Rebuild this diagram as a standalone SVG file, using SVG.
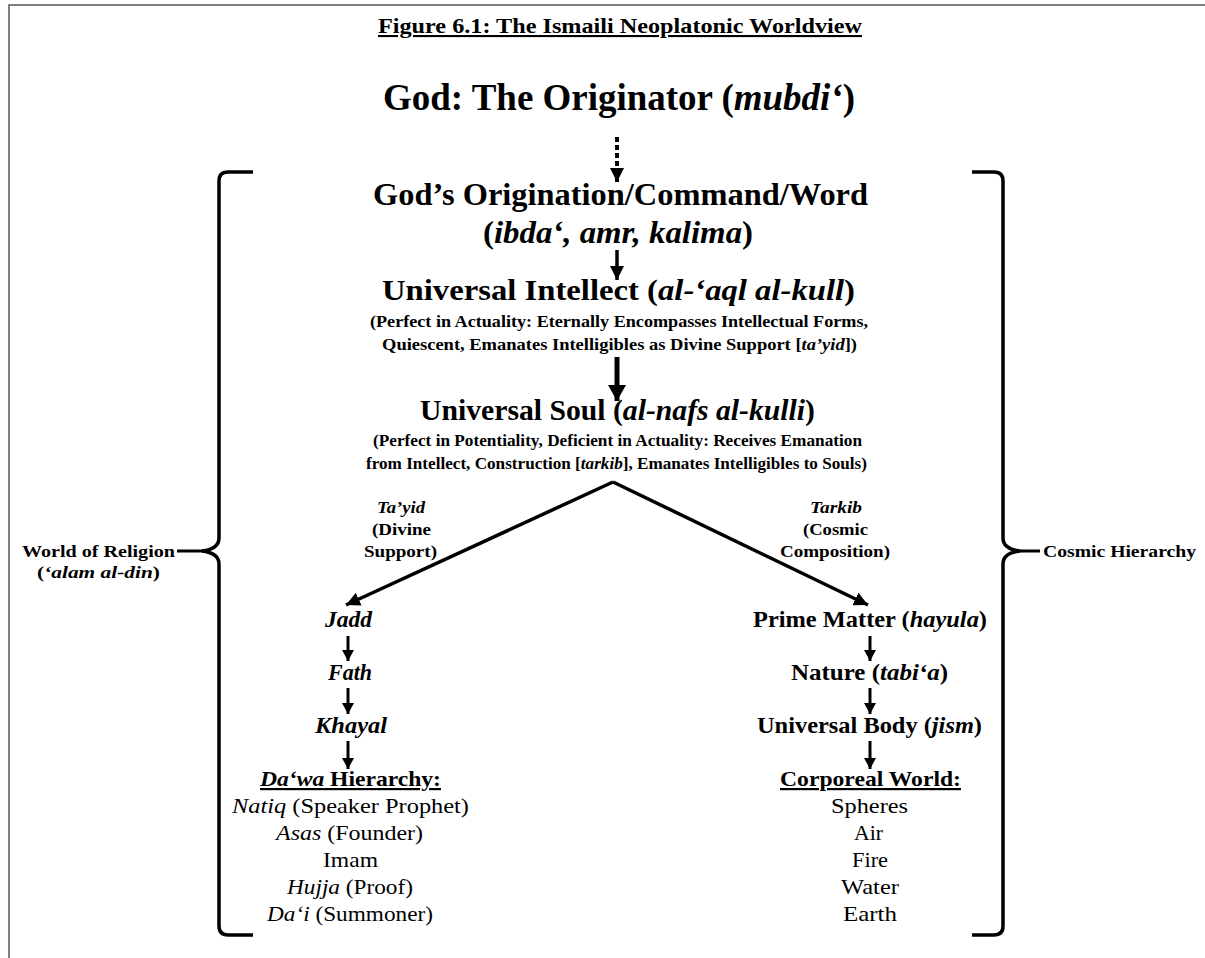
<svg xmlns="http://www.w3.org/2000/svg" width="1205" height="958" viewBox="0 0 1205 958">
<defs>
<style>
text{font-family:"Liberation Serif","Times New Roman",serif;fill:#000}
.b{font-weight:bold}
.i{font-style:italic}
.u{text-decoration:underline}
.ln{stroke:#000;fill:none}
</style>
<marker id="ah" viewBox="0 0 14 14" refX="14" refY="7" markerWidth="14" markerHeight="14" markerUnits="userSpaceOnUse" orient="auto"><path d="M0,0 L14,7 L0,14 z" fill="#000"/></marker>
<marker id="ahL" viewBox="0 0 16 18" refX="16" refY="9" markerWidth="16" markerHeight="18" markerUnits="userSpaceOnUse" orient="auto"><path d="M0,0 L16,9 L0,18 z" fill="#000"/></marker>
<marker id="ahS" viewBox="0 0 11 12" refX="11" refY="6" markerWidth="11" markerHeight="12" markerUnits="userSpaceOnUse" orient="auto"><path d="M0,0 L11,6 L0,12 z" fill="#000"/></marker>
</defs>
<rect x="0" y="0" width="1205" height="958" fill="#fff"/>
<rect x="9" y="5" width="1300" height="1000" fill="none" stroke="#555" stroke-width="1.5"/>
<text class="b u" x="378" y="33" font-size="21" textLength="484" lengthAdjust="spacingAndGlyphs">Figure 6.1: The Ismaili Neoplatonic Worldview</text>

<g id="brackets">
<path class="ln" stroke-width="3.5" d="M253,172 L228,172 Q219,172 219,181 L219,538 Q219,549 202,551 Q219,553 219,564 L219,926 Q219,935 228,935 L253,935"/>
<line class="ln" stroke-width="3" x1="177" y1="551" x2="204" y2="551"/>
<path class="ln" stroke-width="3.5" d="M972,172 L994,172 Q1003,172 1003,181 L1003,538 Q1003,549 1020,551 Q1003,553 1003,564 L1003,926 Q1003,935 994,935 L972,935"/>
<line class="ln" stroke-width="3" x1="1018" y1="551" x2="1040" y2="551"/>
</g>

<g id="connectors">
<line class="ln" stroke-width="4" stroke-dasharray="5 3" x1="617" y1="137" x2="617" y2="182" marker-end="url(#ah)"/>
<line class="ln" stroke-width="3.5" x1="617" y1="250" x2="617" y2="280" marker-end="url(#ah)"/>
<line class="ln" stroke-width="5" x1="617" y1="357" x2="617" y2="401" marker-end="url(#ahL)"/>
<line class="ln" stroke-width="3.5" x1="613" y1="482" x2="346" y2="605" marker-end="url(#ah)"/>
<line class="ln" stroke-width="3.5" x1="613" y1="482" x2="868" y2="605" marker-end="url(#ah)"/>
<line class="ln" stroke-width="3" x1="348" y1="636" x2="348" y2="661" marker-end="url(#ahS)"/>
<line class="ln" stroke-width="3" x1="348" y1="688" x2="348" y2="714" marker-end="url(#ahS)"/>
<line class="ln" stroke-width="3" x1="348" y1="741" x2="348" y2="769" marker-end="url(#ahS)"/>
<line class="ln" stroke-width="3" x1="870" y1="636" x2="870" y2="661" marker-end="url(#ahS)"/>
<line class="ln" stroke-width="3" x1="870" y1="688" x2="870" y2="714" marker-end="url(#ahS)"/>
<line class="ln" stroke-width="3" x1="870" y1="741" x2="870" y2="769" marker-end="url(#ahS)"/>
</g>

<g id="god"><text class="b" x="383" y="110" font-size="37" textLength="472" lengthAdjust="spacingAndGlyphs">God: The Originator (<tspan class="i">mubdi‘</tspan>)</text></g>

<g id="origination">
<text class="b" x="373" y="205" font-size="32" textLength="495" lengthAdjust="spacingAndGlyphs">God’s Origination/Command/Word</text>
<text class="b" x="483" y="243" font-size="32" textLength="270" lengthAdjust="spacingAndGlyphs">(<tspan class="i">ibda‘, amr, kalima</tspan>)</text>
</g>

<g id="intellect">
<text class="b" x="382" y="300" font-size="30" textLength="473" lengthAdjust="spacingAndGlyphs">Universal Intellect (<tspan class="i">al-‘aql al-kull</tspan>)</text>
<text class="b" x="370" y="327" font-size="17" textLength="498" lengthAdjust="spacingAndGlyphs">(Perfect in Actuality: Eternally Encompasses Intellectual Forms,</text>
<text class="b" x="382" y="350" font-size="17" textLength="475" lengthAdjust="spacingAndGlyphs">Quiescent, Emanates Intelligibles as Divine Support [<tspan class="i">ta’yid</tspan>])</text>
</g>

<g id="soul">
<text class="b" x="420" y="420" font-size="30" textLength="395" lengthAdjust="spacingAndGlyphs">Universal Soul (<tspan class="i">al-nafs al-kulli</tspan>)</text>
<text class="b" x="373" y="446" font-size="17" textLength="489" lengthAdjust="spacingAndGlyphs">(Perfect in Potentiality, Deficient in Actuality: Receives Emanation</text>
<text class="b" x="366" y="469" font-size="17" textLength="501" lengthAdjust="spacingAndGlyphs">from Intellect, Construction [<tspan class="i">tarkib</tspan>], Emanates Intelligibles to Souls)</text>
</g>

<g id="label-tayid">
<text class="b i" x="377" y="513" font-size="17" textLength="48" lengthAdjust="spacingAndGlyphs">Ta’yid</text>
<text class="b" x="372" y="535" font-size="17" textLength="59" lengthAdjust="spacingAndGlyphs">(Divine</text>
<text class="b" x="364" y="557" font-size="17" textLength="73" lengthAdjust="spacingAndGlyphs">Support)</text>
</g>
<g id="label-tarkib">
<text class="b i" x="810" y="513" font-size="17" textLength="52" lengthAdjust="spacingAndGlyphs">Tarkib</text>
<text class="b" x="803" y="535" font-size="17" textLength="65" lengthAdjust="spacingAndGlyphs">(Cosmic</text>
<text class="b" x="780" y="557" font-size="17" textLength="110" lengthAdjust="spacingAndGlyphs">Composition)</text>
</g>

<g id="jadd"><text class="b i" x="325" y="627" font-size="23" textLength="47" lengthAdjust="spacingAndGlyphs">Jadd</text></g>
<g id="fath"><text class="b i" x="328" y="680" font-size="23" textLength="44" lengthAdjust="spacingAndGlyphs">Fath</text></g>
<g id="khayal"><text class="b i" x="315" y="733" font-size="23" textLength="72" lengthAdjust="spacingAndGlyphs">Khayal</text></g>
<g id="dawa">
<text class="b u" x="260" y="786" font-size="22" textLength="181" lengthAdjust="spacingAndGlyphs"><tspan class="i">Da‘wa</tspan> Hierarchy:</text>
<text x="232" y="813" font-size="22" textLength="237" lengthAdjust="spacingAndGlyphs"><tspan class="i">Natiq</tspan> (Speaker Prophet)</text>
<text x="276" y="840" font-size="22" textLength="147" lengthAdjust="spacingAndGlyphs"><tspan class="i">Asas</tspan> (Founder)</text>
<text x="323" y="867" font-size="22" textLength="55" lengthAdjust="spacingAndGlyphs">Imam</text>
<text x="287" y="894" font-size="22" textLength="126" lengthAdjust="spacingAndGlyphs"><tspan class="i">Hujja</tspan> (Proof)</text>
<text x="267" y="921" font-size="22" textLength="166" lengthAdjust="spacingAndGlyphs"><tspan class="i">Da‘i</tspan> (Summoner)</text>
</g>

<g id="prime-matter"><text class="b" x="753" y="627" font-size="23" textLength="234" lengthAdjust="spacingAndGlyphs">Prime Matter (<tspan class="i">hayula</tspan>)</text></g>
<g id="nature"><text class="b" x="791" y="680" font-size="23" textLength="157" lengthAdjust="spacingAndGlyphs">Nature (<tspan class="i">tabi‘a</tspan>)</text></g>
<g id="body"><text class="b" x="757" y="733" font-size="23" textLength="225" lengthAdjust="spacingAndGlyphs">Universal Body (<tspan class="i">jism</tspan>)</text></g>
<g id="corporeal">
<text class="b u" x="780" y="786" font-size="22" textLength="181" lengthAdjust="spacingAndGlyphs">Corporeal World:</text>
<text x="831" y="813" font-size="22" textLength="77" lengthAdjust="spacingAndGlyphs">Spheres</text>
<text x="854" y="840" font-size="22" textLength="29" lengthAdjust="spacingAndGlyphs">Air</text>
<text x="852" y="867" font-size="22" textLength="36" lengthAdjust="spacingAndGlyphs">Fire</text>
<text x="841" y="894" font-size="22" textLength="58" lengthAdjust="spacingAndGlyphs">Water</text>
<text x="843" y="921" font-size="22" textLength="54" lengthAdjust="spacingAndGlyphs">Earth</text>
</g>

<g id="world-of-religion">
<text class="b" x="22" y="557" font-size="17" textLength="153" lengthAdjust="spacingAndGlyphs">World of Religion</text>
<text class="b" x="37" y="578" font-size="17" textLength="123" lengthAdjust="spacingAndGlyphs">(<tspan class="i">‘alam al-din</tspan>)</text>
</g>
<g id="cosmic-hierarchy">
<text class="b" x="1043" y="557" font-size="17" textLength="153" lengthAdjust="spacingAndGlyphs">Cosmic Hierarchy</text>
</g>
</svg>
